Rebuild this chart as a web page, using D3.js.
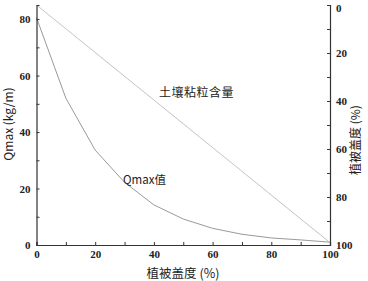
<!DOCTYPE html>
<html lang="zh">
<head>
<meta charset="UTF-8">
<title>Qmax</title>
<script src="https://d3js.org/d3.v7.min.js"></script>
<style>
    body { margin: 0; background: #fff; }
    .cjk { font-family: "Noto Sans CJK SC", sans-serif; fill: #222; }
</style>
</head>
<body>
<script>
    const width  = 368;
    const height = 281;

    // 植被盖度 (%)
    const cover = [0, 10, 20, 30, 40, 50, 60, 70, 80, 90, 100];
    // Qmax (kg/m), left axis
    const qmax  = [80.5, 52, 33.6, 22.2, 14.2, 9.2, 5.9, 3.8, 2.5, 1.8, 1.0];
    // 土壤粘粒含量, right axis (reversed)
    const clayX = [0, 100];
    const clayY = [0, 99];

    const leftTicks  = [0, 20, 40, 60, 80];
    const rightTicks = [0, 20, 40, 60, 80, 100];
    const xTicks     = [0, 20, 40, 60, 80, 100];

    const x  = d3.scaleLinear().domain([0, 100]).range([36.5, 330]);
    const yL = d3.scaleLinear().domain([0, 85]).range([245, 5]);
    const yR = d3.scaleLinear().domain([0, 100]).range([5, 245]);

    const svg = d3.select("body").append("svg").attr("width", width).attr("height", height);

    // lines
    const qLine = d3.line().x((d, i) => x(cover[i])).y(d => yL(d));
    svg.append("path").attr("d", qLine(qmax))
        .attr("fill", "none").attr("stroke", "#9a9a9a").attr("stroke-width", 1);

    const cLine = d3.line().x((d, i) => x(clayX[i])).y(d => yR(d));
    svg.append("path").attr("d", cLine(clayY))
        .attr("fill", "none").attr("stroke", "#c4c4c4").attr("stroke-width", 1);

    // axes, ticks pointing inward
    const bottom = svg.append("g").attr("transform", "translate(0,245)")
        .call(d3.axisBottom(x).tickValues(d3.range(0, 101, 10)).tickSize(-3).tickPadding(5)
            .tickFormat(d => xTicks.includes(d) ? d : ""));

    const left = svg.append("g").attr("transform", "translate(36.5,0)")
        .call(d3.axisLeft(yL).tickValues(d3.range(0, 81, 10)).tickSize(-3).tickPadding(6)
            .tickFormat(d => leftTicks.includes(d) ? d : ""));

    const right = svg.append("g").attr("transform", "translate(330,0)")
        .call(d3.axisRight(yR).tickValues(d3.range(0, 101, 10)).tickSize(-3).tickPadding(6)
            .tickFormat(d => rightTicks.includes(d) ? d : ""));

    [bottom, left, right].forEach(g => {
        g.attr("font-family", "Liberation Serif, serif")
         .attr("font-size", 11).attr("font-weight", "bold");
        g.selectAll(".tick text").attr("fill", "#222");
        g.selectAll(".tick line").attr("stroke", "#333");
        g.select(".domain").attr("stroke", "#333").attr("stroke-width", 1.2);
    });
    right.selectAll(".tick text").filter(d => d === 0).attr("dy", "0.55em");

    // axis titles
    svg.append("text").attr("class", "cjk")
        .attr("transform", "translate(13,124) rotate(-90)")
        .attr("text-anchor", "middle").attr("font-size", 12)
        .text("Qmax (kg/m)");

    svg.append("text").attr("class", "cjk")
        .attr("transform", "translate(360,140) rotate(-90)")
        .attr("text-anchor", "middle").attr("font-size", 12)
        .text("植被盖度 (%)");

    svg.append("text").attr("class", "cjk")
        .attr("x", 183).attr("y", 278)
        .attr("text-anchor", "middle").attr("font-size", 12.5)
        .text("植被盖度 (%)");

    // series labels
    svg.append("text").attr("class", "cjk")
        .attr("x", 159).attr("y", 96.5).attr("font-size", 12)
        .attr("letter-spacing", 0.5)
        .text("土壤粘粒含量");

    svg.append("text").attr("class", "cjk")
        .attr("x", 123).attr("y", 183.5).attr("font-size", 11.5)
        .text("Qmax值");
</script>
</body>
</html>
